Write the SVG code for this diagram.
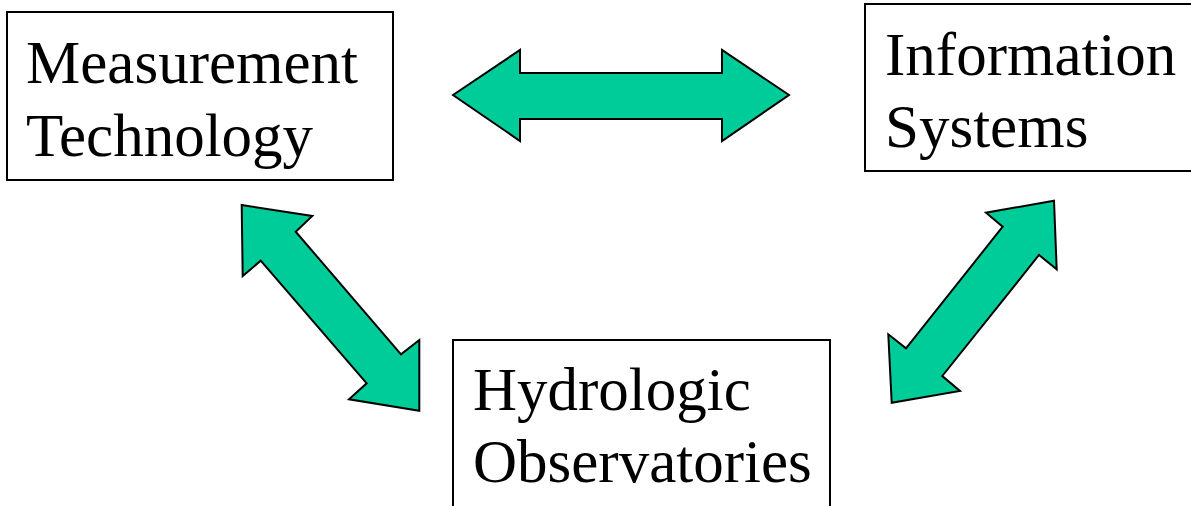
<svg xmlns="http://www.w3.org/2000/svg" width="1191" height="506" viewBox="0 0 1191 506">
<style>
.box{fill:#fff;stroke:#000;stroke-width:2}
.lbl{font-family:"Liberation Serif","Times New Roman",serif;font-size:61px;fill:#000}
.arr{fill:#00CC99;stroke:#000;stroke-width:2;stroke-linejoin:miter}
</style>
<rect width="1191" height="506" fill="#fff"/>
<g id="measurement">
<rect class="box" x="7" y="12" width="386" height="168"/>
<text class="lbl" x="26" y="83">Measurement</text>
<text class="lbl" x="26" y="156">Technology</text>
</g>
<g id="information">
<rect class="box" x="865" y="4" width="340" height="167"/>
<text class="lbl" x="885" y="75">Information</text>
<text class="lbl" x="885" y="147">Systems</text>
</g>
<g id="hydrologic">
<rect class="box" x="453" y="340" width="377" height="180"/>
<text class="lbl" x="473" y="410">Hydrologic</text>
<text class="lbl" x="473" y="482">Observatories</text>
</g>
<g id="connectors">
<polygon class="arr" points="453,95 520,50 520,73 722,73 722,50 789,95 722,141 722,119 520,119 520,141"/>
<polygon class="arr" points="241.7,205 312.3,216 295.7,231.7 401,354.3 419.3,340 419.3,410.7 349,399.3 366.7,383.3 260.7,260.7 242.7,276"/>
<polygon class="arr" points="1054,200.7 1056.7,269.3 1039,255 942.3,376 960,391 891.7,402.7 888.3,334.3 906,348.3 1002.7,226.7 986,212.7"/>
</g>
</svg>
